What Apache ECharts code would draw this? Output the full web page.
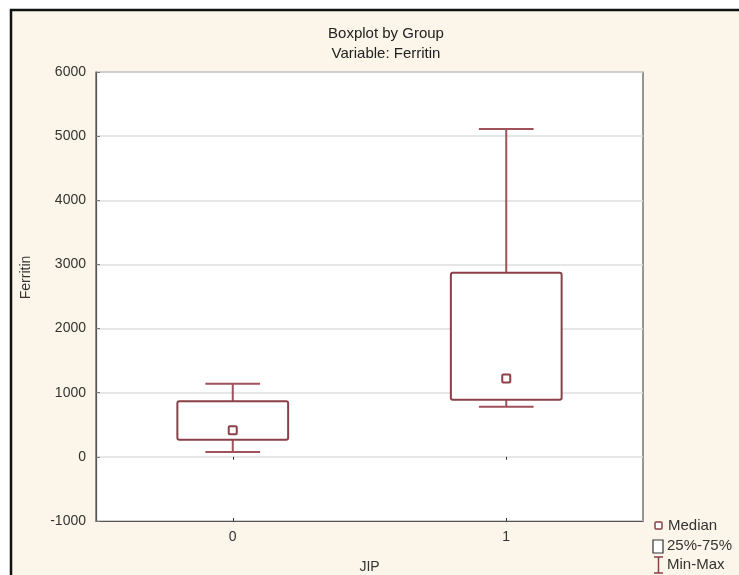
<!DOCTYPE html>
<html>
<head>
<meta charset="utf-8">
<script src="https://cdn.jsdelivr.net/npm/echarts@6/dist/echarts.min.js"></script>
<style>
html,body{margin:0;padding:0;background:#fff;}
#chart{width:739px;height:575px;}
</style>
</head>
<body>
<div id="chart"></div>
<script>
// ---- data ----
var categories = ['0', '1'];
var minVals    = [75, 780];
var q1Vals     = [265, 890];
var medianVals = [415, 1220];
var q3Vals     = [865, 2870];
var maxVals    = [1140, 5110];
var yTicks = { min: -1000, max: 6000, interval: 1000 };

var boxData = categories.map(function (c, i) {
  return [i, minVals[i], q1Vals[i], medianVals[i], q3Vals[i], maxVals[i]];
});

var FONT = "'Liberation Sans', Arial, sans-serif";
var BOX_COLOR = '#8b3f47';
var WHISK_COLOR = '#a0525b';
var TXT = '#333333';

function renderBox(params, api) {
  var idx = api.value(0);
  var band = api.size([1, 0])[0];
  var x = api.coord([idx, 0])[0];
  var yMin = api.coord([idx, api.value(1)])[1];
  var yQ1 = api.coord([idx, api.value(2)])[1];
  var yMed = api.coord([idx, api.value(3)])[1];
  var yQ3 = api.coord([idx, api.value(4)])[1];
  var yMax = api.coord([idx, api.value(5)])[1];
  var bw = band * 0.405;
  var cw = band * 0.2;
  var ms = 8;
  return {
    type: 'group',
    children: [
      { type: 'line', shape: { x1: x, y1: yMax, x2: x, y2: yQ3 }, style: { stroke: WHISK_COLOR, lineWidth: 2 } },
      { type: 'line', shape: { x1: x - cw / 2, y1: yMax, x2: x + cw / 2, y2: yMax }, style: { stroke: WHISK_COLOR, lineWidth: 2 } },
      { type: 'line', shape: { x1: x, y1: yQ1, x2: x, y2: yMin }, style: { stroke: WHISK_COLOR, lineWidth: 2 } },
      { type: 'line', shape: { x1: x - cw / 2, y1: yMin, x2: x + cw / 2, y2: yMin }, style: { stroke: WHISK_COLOR, lineWidth: 2 } },
      { type: 'rect', shape: { x: x - bw / 2, y: yQ3, width: bw, height: yQ1 - yQ3, r: 2 }, style: { fill: '#fff', stroke: BOX_COLOR, lineWidth: 2 } },
      { type: 'rect', shape: { x: x - ms / 2, y: yMed - ms / 2, width: ms, height: ms, r: 1 }, style: { fill: '#fff', stroke: BOX_COLOR, lineWidth: 2 } }
    ]
  };
}

var chart = echarts.init(document.getElementById('chart'));
chart.setOption({
  animation: false,
  backgroundColor: '#ffffff',
  textStyle: { fontFamily: FONT },
  title: {
    text: 'Boxplot by Group\nVariable: Ferritin',
    left: 381, top: 19, textAlign: 'center',
    textStyle: { fontFamily: FONT, fontSize: 15, fontWeight: 'normal', color: '#222', lineHeight: 20 }
  },
  grid: {
    left: 96, right: 96, top: 72, bottom: 54,
    outerBoundsMode: 'none', containLabel: false,
    show: true, backgroundColor: '#ffffff', borderColor: '#555', borderWidth: 1.2
  },
  xAxis: [{
    type: 'category', data: categories, boundaryGap: true,
    name: 'JIP', nameLocation: 'middle', nameGap: 39,
    nameTextStyle: { fontFamily: FONT, fontSize: 14, color: TXT },
    axisLine: { show: true, onZero: false, lineStyle: { color: '#555', width: 1.2 } },
    axisTick: { show: true, inside: true, alignWithLabel: true, length: 3, lineStyle: { color: '#333' } },
    axisLabel: { fontFamily: FONT, fontSize: 14, color: TXT, margin: 9 },
    splitLine: { show: false }
  }, {
    type: 'category', data: categories, boundaryGap: true, position: 'top',
    axisLine: { show: false },
    axisTick: { show: true, inside: true, alignWithLabel: true, length: 3, lineStyle: { color: '#333' } },
    axisLabel: { show: false }
  }],
  yAxis: {
    type: 'value', min: yTicks.min, max: yTicks.max, interval: yTicks.interval,
    name: 'Ferritin', nameLocation: 'middle', nameGap: 63,
    nameTextStyle: { fontFamily: FONT, fontSize: 14, color: TXT, padding: [0, 0, 0, 38] },
    axisLine: { show: true, lineStyle: { color: '#555', width: 1.2 } },
    axisTick: { show: true, inside: true, length: 4, lineStyle: { color: '#777' } },
    axisLabel: { fontFamily: FONT, fontSize: 14, color: TXT, margin: 10,
      formatter: function (v) { return String(v); } },
    splitLine: { show: true, lineStyle: { color: '#dedede', width: 1.5 } }
  },
  series: [{
    type: 'custom',
    renderItem: renderBox,
    data: boxData,
    encode: { x: 0, y: [1, 2, 3, 4, 5] },
    z: 5
  }],
  graphic: [
    { type: 'rect', z: -100, silent: true,
      shape: { x: 11, y: 10, width: 800, height: 700 },
      style: { fill: '#fbf6e9', stroke: '#111', lineWidth: 2.5 } },
    // legend
    { type: 'rect', shape: { x: 655, y: 522, width: 7, height: 7, r: 1 }, style: { fill: '#fff', stroke: BOX_COLOR, lineWidth: 1.5 } },
    { type: 'text', x: 668, y: 526, style: { text: 'Median', font: '15px ' + FONT, fill: TXT, textVerticalAlign: 'middle', verticalAlign: 'middle' } },
    { type: 'rect', shape: { x: 653, y: 540, width: 10, height: 13 }, style: { fill: '#fff', stroke: '#333', lineWidth: 1.2 } },
    { type: 'text', x: 667, y: 546, style: { text: '25%-75%', font: '15px ' + FONT, fill: TXT, textVerticalAlign: 'middle', verticalAlign: 'middle' } },
    { type: 'line', shape: { x1: 654, y1: 557, x2: 663, y2: 557 }, style: { stroke: BOX_COLOR, lineWidth: 1.5 } },
    { type: 'line', shape: { x1: 658.5, y1: 557, x2: 658.5, y2: 573 }, style: { stroke: BOX_COLOR, lineWidth: 1.5 } },
    { type: 'line', shape: { x1: 654, y1: 573, x2: 663, y2: 573 }, style: { stroke: BOX_COLOR, lineWidth: 1.5 } },
    { type: 'text', x: 667, y: 565, style: { text: 'Min-Max', font: '15px ' + FONT, fill: TXT, textVerticalAlign: 'middle', verticalAlign: 'middle' } }
  ]
});
</script>
</body>
</html>
